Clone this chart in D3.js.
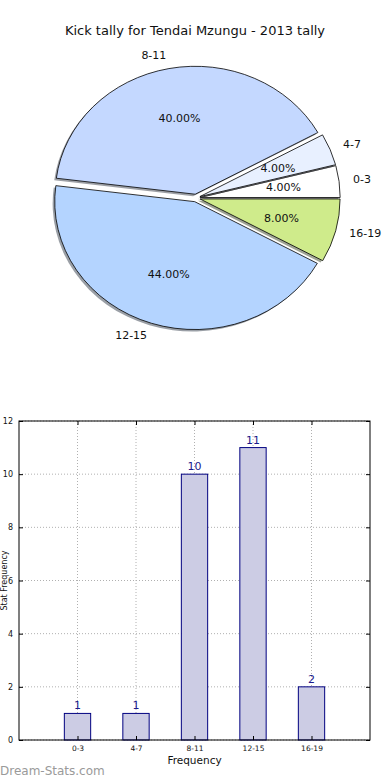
<!DOCTYPE html>
<html><head><meta charset="utf-8">
<script src="https://cdn.jsdelivr.net/npm/d3@7"></script>
<style>body{margin:0;background:#fff}svg{display:block;font-family:"DejaVu Sans",sans-serif}</style>
</head><body>
<svg id="c" width="390" height="780"></svg>
<script>
const title = "Kick tally for Tendai Mzungu - 2013 tally";
const categories = ["0-3","4-7","8-11","12-15","16-19"];
const counts = [1,1,10,11,2];
const pieColors = ["#ffffff","#e8f0ff","#c4d8ff","#b4d4ff","#cfeb8b"];
const yTicks = [0,2,4,6,8,10,12];
const xLabel = "Frequency";
const yLabel = "Stat Frequency";
const watermark = "Dream-Stats.com";

const svg = d3.select("#c");
svg.append("rect").attr("width",390).attr("height",780).attr("fill","#fff");

// ---------- PIE ----------
svg.append("text").attr("x",195).attr("y",30).attr("text-anchor","middle")
  .attr("dominant-baseline","central").attr("font-size",13).attr("fill","#111").text(title);

const cx = 196, cy = 198, rx = 140, ry = 128, explode = 0.03, sh = 0.015;
const total = d3.sum(counts);
const pie = d3.pie().sort(null).value(d=>d).startAngle(Math.PI/2).endAngle(Math.PI/2 - 2*Math.PI);
const arcs = pie(counts);
const arc = d3.arc().innerRadius(0).outerRadius(1);
const pg = svg.append("g");
arcs.forEach((a,i)=>{
  const mid = (a.startAngle + a.endAngle)/2;
  const ox = cx + explode*rx*Math.sin(mid), oy = cy - explode*ry*Math.cos(mid);
  const c = d3.rgb(pieColors[i]);
  const shc = d3.rgb(c.r*0.3, c.g*0.3, c.b*0.3);
  pg.append("path").attr("d", arc(a))
    .attr("transform",`translate(${ox - sh*rx},${oy + sh*ry}) scale(${rx},${ry})`)
    .attr("fill", shc).attr("fill-opacity",0.5).attr("stroke","none");
  pg.append("path").attr("d", arc(a))
    .attr("transform",`translate(${ox},${oy}) scale(${rx},${ry})`)
    .attr("fill", pieColors[i]).attr("stroke","#000").attr("stroke-width",0.8)
    .attr("vector-effect","non-scaling-stroke");
  const lx = ox + 1.1*rx*Math.sin(mid), ly = oy - 1.1*ry*Math.cos(mid);
  pg.append("text").attr("x",lx).attr("y",ly)
    .attr("text-anchor", Math.sin(mid) > 0 ? "start" : "end")
    .attr("dominant-baseline","central").attr("font-size",11).attr("fill","#111").text(categories[i]);
  const px = ox + 0.6*rx*Math.sin(mid), py = oy - 0.6*ry*Math.cos(mid);
  pg.append("text").attr("x",px).attr("y",py).attr("text-anchor","middle")
    .attr("dominant-baseline","central").attr("font-size",11).attr("fill","#111")
    .text((counts[i]/total*100).toFixed(2)+"%");
});

// ---------- BAR ----------
const L = 19, R = 370, T = 421, B = 740;
const x = d3.scaleLinear().domain([-1,5]).range([L,R]);
const y = d3.scaleLinear().domain([0,12]).range([B,T]);
const bw = x(0.45) - x(0);
const bg = svg.append("g");

// grid
bg.selectAll(".hg").data(yTicks).enter().append("line")
  .attr("x1",L).attr("x2",R).attr("y1",d=>y(d)).attr("y2",d=>y(d))
  .attr("stroke","#b0b0b0").attr("stroke-dasharray","1,2").attr("stroke-width",1);
bg.selectAll(".vg").data(categories.map((d,i)=>i)).enter().append("line")
  .attr("x1",d=>x(d)).attr("x2",d=>x(d)).attr("y1",T).attr("y2",B)
  .attr("stroke","#b0b0b0").attr("stroke-dasharray","1,2").attr("stroke-width",1);

// bars
bg.selectAll(".bar").data(counts).enter().append("rect")
  .attr("x",(d,i)=>x(i)-bw/2).attr("width",bw)
  .attr("y",d=>y(d)).attr("height",d=>y(0)-y(d))
  .attr("fill","#ccccE4").attr("stroke","#000080").attr("stroke-width",1);
bg.selectAll(".vl").data(counts).enter().append("text")
  .attr("x",(d,i)=>x(i)).attr("y",d=>y(d)-4).attr("text-anchor","middle")
  .attr("font-size",11).attr("fill","#1a1a8c").text(d=>d);

// axes
const yAxis = d3.axisLeft(y).tickValues(yTicks).tickSize(-4).tickPadding(6);
const ya = bg.append("g").attr("transform",`translate(${L},0)`).call(yAxis);
ya.select(".domain").remove();
ya.selectAll("text").attr("font-size",8).attr("fill","#111").attr("font-family","DejaVu Sans");
ya.selectAll("line").attr("stroke","#000");
const yr = bg.append("g").attr("transform",`translate(${R},0)`).call(d3.axisRight(y).tickValues(yTicks).tickSize(-4).tickFormat(""));
yr.select(".domain").remove();

const xAxis = d3.axisBottom(x).tickValues(categories.map((d,i)=>i)).tickFormat(i=>categories[i]).tickSize(-4).tickPadding(6);
const xa = bg.append("g").attr("transform",`translate(0,${B})`).call(xAxis);
xa.select(".domain").remove();
xa.selectAll("text").attr("font-size",7.5).attr("fill","#111").attr("font-family","DejaVu Sans");
const xt = bg.append("g").attr("transform",`translate(0,${T})`).call(d3.axisTop(x).tickValues(categories.map((d,i)=>i)).tickSize(-4).tickFormat(""));
xt.select(".domain").remove();

bg.append("rect").attr("x",L).attr("y",T).attr("width",R-L).attr("height",B-T)
  .attr("fill","none").attr("stroke","#000").attr("stroke-width",1);

bg.append("text").attr("x",(L+R)/2).attr("y",764).attr("text-anchor","middle")
  .attr("font-size",10.5).attr("fill","#111").text(xLabel);
bg.append("text").attr("transform",`translate(4,${(T+B)/2}) rotate(-90)`)
  .attr("text-anchor","middle").attr("dominant-baseline","central")
  .attr("font-size",8).attr("fill","#111").text(yLabel);

svg.append("text").attr("x",0).attr("y",775).attr("font-size",12)
  .attr("fill","#9a9a9a").text(watermark);
</script>
</body></html>
